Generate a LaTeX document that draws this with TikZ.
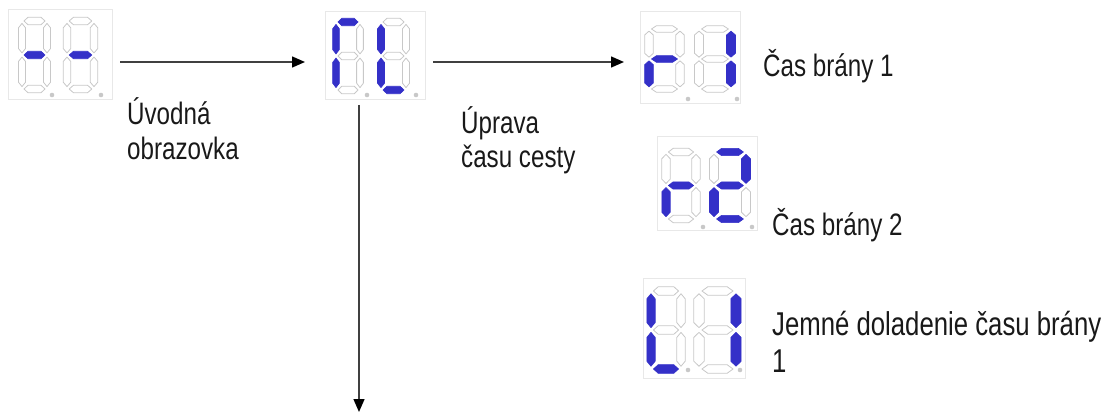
\documentclass[tikz,border=0pt]{standalone}
\usepackage{fontspec}
\setmainfont{Liberation Sans}[FakeStretch=0.78]
\usetikzlibrary{arrows.meta}
\definecolor{segblue}{RGB}{52,48,200}
\definecolor{seggray}{RGB}{200,200,200}
\definecolor{boxgray}{RGB}{232,232,232}
\definecolor{linegray}{RGB}{64,64,64}
\definecolor{txt}{RGB}{25,25,25}
\tikzset{
  on/.style={fill=segblue, draw=segblue, line width=0.6pt, line join=round},
  off/.style={draw=seggray, fill=white, line width=0.8pt, line join=round},
  dispbox/.style={draw=boxgray, line width=1pt, inner sep=0pt},
  dotp/.style={fill=seggray},
  arr/.style={draw=linegray, line width=1.4pt, -{Triangle[length=13pt,width=11pt,color=black]}},
  lbl/.style={anchor=base west, align=left, inner sep=0pt, text=txt, font=\fontsize{31}{35}\selectfont},
}
% #1 scope options, #2..#8 styles of segments a b c d e f g
\newcommand\dgt[8]{%
  \begin{scope}[#1]
    \path[#2] (0.08,0) -- (0.24,-0.11) -- (0.76,-0.11) -- (0.92,0) -- (0.76,0.11) -- (0.24,0.11) -- cycle;
    \path[#3] (1,0.07) -- (1.14,0.2) -- (1.14,0.81) -- (1,0.94) -- (0.86,0.81) -- (0.86,0.2) -- cycle;
    \path[#4] (1,1.06) -- (1.14,1.19) -- (1.14,1.8) -- (1,1.93) -- (0.86,1.8) -- (0.86,1.19) -- cycle;
    \path[#5] (0.08,2) -- (0.24,1.89) -- (0.76,1.89) -- (0.92,2) -- (0.76,2.11) -- (0.24,2.11) -- cycle;
    \path[#6] (0,1.06) -- (0.14,1.19) -- (0.14,1.8) -- (0,1.93) -- (-0.14,1.8) -- (-0.14,1.19) -- cycle;
    \path[#7] (0,0.07) -- (0.14,0.2) -- (0.14,0.81) -- (0,0.94) -- (-0.14,0.81) -- (-0.14,0.2) -- cycle;
    \path[#8] (0.08,1) -- (0.24,0.89) -- (0.76,0.89) -- (0.92,1) -- (0.76,1.11) -- (0.24,1.11) -- cycle;
  \end{scope}}
\begin{document}
\begin{tikzpicture}[x=1pt,y=-1pt]
\useasboundingbox (0,0) rectangle (1104,417);
% display boxes
\node[dispbox, minimum width=104pt, minimum height=90pt] (d1) at (60,55) {};
\node[dispbox, minimum width=100pt, minimum height=88pt] (d2) at (375,56) {};
\node[dispbox, minimum width=100pt, minimum height=92pt] (d3) at (690,58) {};
\node[dispbox, minimum width=100pt, minimum height=93pt] (d4) at (707,183.5) {};
\node[dispbox, minimum width=102pt, minimum height=100pt] (d5) at (694,328) {};
% display 1: - -
\dgt{shift={(22,21)},x=25pt,y=-34pt}{off}{off}{off}{off}{off}{off}{on}
\dgt{shift={(67,21)},x=27pt,y=-34pt}{off}{off}{off}{off}{off}{off}{on}
\fill[dotp] (52,95) circle (2.3pt);
\fill[dotp] (101,95) circle (2.3pt);
% display 2: r L
\dgt{shift={(336,22)},x=24pt,y=-34pt}{on}{off}{off}{off}{on}{on}{off}
\dgt{shift={(381,22)},x=25pt,y=-34pt}{off}{off}{off}{on}{on}{on}{off}
\fill[dotp] (367,95) circle (2.3pt);
\fill[dotp] (416,95) circle (2.3pt);
% display 3: r 1
\dgt{shift={(649,29)},x=31pt,y=-30pt}{off}{off}{off}{off}{on}{off}{on}
\dgt{shift={(699,29)},x=32pt,y=-30pt}{off}{on}{on}{off}{off}{off}{off}
\fill[dotp] (688,99) circle (2.3pt);
\fill[dotp] (737,99) circle (2.3pt);
% display 4: r 2
\dgt{shift={(666,152)},x=30pt,y=-33.5pt}{off}{off}{off}{off}{on}{off}{on}
\dgt{shift={(714,152)},x=32pt,y=-33.5pt}{on}{on}{off}{on}{on}{off}{on}
\fill[dotp] (703,227) circle (2.3pt);
\fill[dotp] (752,227) circle (2.3pt);
% display 5: L 1
\dgt{shift={(651,291)},x=30pt,y=-39pt}{off}{off}{off}{on}{on}{on}{off}
\dgt{shift={(699,291)},x=37pt,y=-39pt}{off}{on}{on}{off}{off}{off}{off}
\fill[dotp] (688,370) circle (2.3pt);
\fill[dotp] (740,370) circle (2.3pt);
% connectors
\coordinate (a1s) at (120,62);
\coordinate (a1e) at (305,62);
\coordinate (a2s) at (433,62);
\coordinate (a2e) at (624,62);
\coordinate (a3s) at (359,105);
\coordinate (a3e) at (359,412);
\draw[arr] (a1s) -- (a1e);
\draw[arr] (a2s) -- (a2e);
\draw[arr] (a3s) -- (a3e);
% labels (anchor = baseline of last line)
\node[lbl] (t1) at (127,160) {Úvodná\\obrazovka};
\node[lbl] (t2) at (461,168) {Úprava\\času cesty};
\node[lbl] (t3) at (763,77) {Čas brány 1};
\node[lbl] (t4) at (772,236) {Čas brány 2};
\node[lbl, font=\fontsize{33}{37}\selectfont] (t5) at (772,372) {Jemné doladenie času brány\\1};
\end{tikzpicture}
\end{document}
